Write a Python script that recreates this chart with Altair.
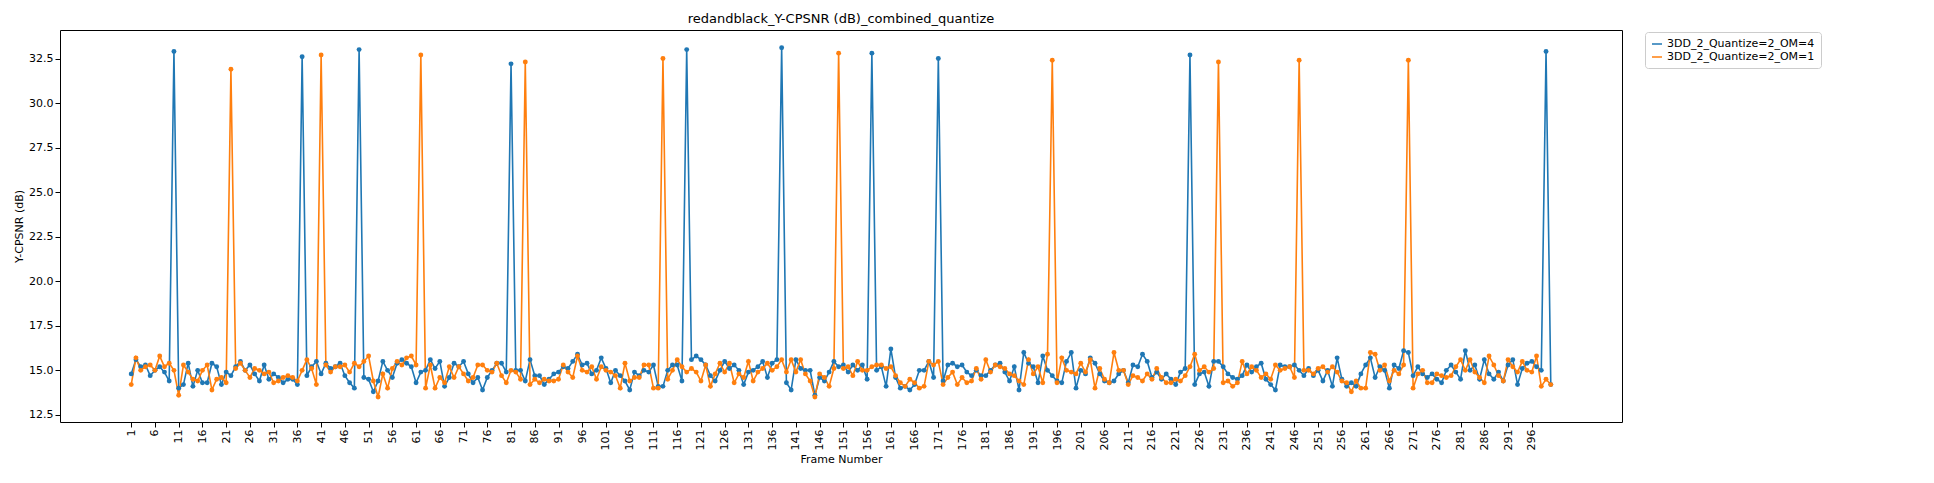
import altair as alt
import pandas as pd

# frame numbers
frames = list(range(1, 301))

# Y-CPSNR values
om4 = [
    14.8, 15.6, 15.2, 15.3, 14.7, 15.0, 15.2, 14.9, 14.4, 32.9,
    14.0, 14.2, 15.4, 14.1, 15.0, 14.3, 14.3, 15.4, 15.2, 14.2,
    14.9, 14.7, 15.2, 15.5, 15.0, 15.3, 14.8, 14.4, 15.3, 14.5,
    14.8, 14.6, 14.3, 14.5, 14.5, 14.2, 32.6, 14.7, 15.2, 15.5,
    14.8, 15.4, 15.1, 15.2, 15.4, 14.7, 14.3, 14.0, 33.0, 14.6,
    14.5, 13.8, 14.4, 15.5, 15.0, 14.6, 15.4, 15.6, 15.4, 15.2,
    14.3, 14.9, 15.0, 15.6, 15.1, 15.5, 14.1, 14.6, 15.4, 15.2,
    15.5, 14.8, 14.3, 14.6, 13.9, 14.6, 15.0, 15.4, 15.4, 14.9,
    32.2, 15.0, 15.0, 14.4, 15.6, 14.7, 14.7, 14.2, 14.5, 14.8,
    14.9, 15.2, 15.1, 15.5, 15.9, 15.3, 15.4, 14.8, 15.0, 15.7,
    15.1, 14.3, 15.0, 14.7, 14.4, 13.9, 14.9, 14.7, 15.0, 14.9,
    15.3, 14.1, 14.1, 15.0, 15.3, 15.3, 14.4, 33.0, 15.6, 15.8,
    15.6, 15.3, 14.7, 14.4, 15.0, 15.5, 15.1, 15.3, 15.0, 14.2,
    14.9, 15.0, 15.2, 15.5, 14.6, 15.4, 15.6, 33.1, 14.3, 13.9,
    15.6, 15.1, 15.0, 15.0, 13.6, 14.6, 14.4, 14.9, 15.5, 15.2,
    15.3, 14.9, 15.3, 15.0, 15.3, 14.5, 32.8, 15.0, 15.2, 14.1,
    16.2, 14.6, 14.0, 14.1, 13.9, 14.2, 15.0, 15.0, 15.5, 14.6,
    32.5, 14.4, 15.3, 15.4, 15.2, 15.3, 14.9, 14.7, 15.0, 14.7,
    14.7, 15.0, 15.3, 15.4, 14.9, 14.4, 15.2, 13.9, 16.0, 15.4,
    15.2, 14.3, 15.8, 15.0, 14.7, 14.4, 14.3, 15.5, 16.0, 14.0,
    15.0, 14.8, 15.7, 15.4, 14.8, 14.4, 14.3, 14.4, 14.8, 15.0,
    14.3, 15.3, 15.2, 15.9, 15.5, 14.6, 14.9, 14.5, 14.8, 14.5,
    14.2, 14.9, 15.1, 32.7, 14.2, 14.8, 14.9, 14.1, 15.5, 15.5,
    15.2, 14.8, 14.6, 14.5, 14.7, 15.3, 14.9, 15.2, 15.4, 14.5,
    14.2, 13.9, 15.3, 15.2, 15.2, 15.3, 15.0, 14.7, 15.1, 14.7,
    15.0, 14.4, 15.0, 14.1, 15.7, 14.5, 14.1, 14.3, 14.1, 14.8,
    15.3, 15.7, 14.6, 15.2, 15.0, 14.0, 15.3, 15.1, 16.1, 16.0,
    14.7, 15.2, 14.8, 14.6, 14.8, 14.5, 14.3, 15.0, 15.3, 14.9,
    14.5, 16.1, 15.0, 15.3, 14.5, 15.6, 14.8, 14.5, 14.9, 14.4,
    15.3, 15.6, 14.2, 15.1, 15.4, 15.5, 15.2, 15.0, 32.9, 14.2,
]
om1 = [
    14.2, 15.7, 15.0, 15.2, 15.3, 15.0, 15.8, 15.2, 15.4, 15.0,
    13.6, 15.3, 14.9, 14.5, 14.4, 15.0, 15.3, 13.9, 14.5, 14.6,
    14.3, 31.9, 15.1, 15.4, 15.0, 14.6, 15.1, 15.0, 14.8, 14.9,
    14.3, 14.4, 14.6, 14.7, 14.6, 14.4, 15.0, 15.6, 15.1, 14.2,
    32.7, 15.3, 14.9, 15.2, 15.2, 15.3, 14.9, 15.4, 15.2, 15.5,
    15.8, 14.4, 13.5, 14.8, 14.0, 15.1, 15.5, 15.3, 15.7, 15.8,
    15.3, 32.7, 14.0, 15.3, 14.0, 14.6, 14.3, 15.2, 14.6, 15.2,
    14.8, 14.4, 14.6, 15.3, 15.3, 15.0, 14.9, 15.4, 14.7, 14.3,
    15.0, 14.9, 14.5, 32.3, 14.2, 14.5, 14.3, 14.5, 14.4, 14.4,
    14.5, 15.3, 14.9, 14.6, 15.8, 15.0, 14.9, 15.2, 14.5, 15.2,
    15.0, 14.9, 14.7, 14.0, 15.4, 14.4, 14.6, 14.6, 15.3, 15.3,
    14.0, 14.0, 32.5, 14.5, 15.0, 15.6, 15.2, 14.9, 15.1, 14.9,
    14.4, 15.3, 14.1, 14.8, 15.4, 14.9, 15.4, 14.3, 14.8, 14.6,
    15.5, 14.4, 14.9, 15.1, 15.4, 15.0, 15.2, 15.6, 14.9, 15.6,
    14.9, 15.6, 14.8, 14.4, 13.5, 14.8, 14.6, 14.1, 15.1, 32.8,
    15.1, 15.2, 14.7, 15.5, 15.0, 15.0, 15.2, 15.3, 15.3, 15.1,
    15.2, 14.7, 14.3, 14.1, 14.5, 14.3, 14.0, 14.1, 15.5, 15.3,
    15.5, 14.2, 14.6, 14.9, 14.2, 14.6, 14.3, 14.4, 15.1, 14.5,
    15.6, 14.9, 15.3, 15.2, 15.1, 14.8, 14.7, 14.4, 14.2, 15.6,
    14.8, 15.2, 14.3, 15.9, 32.4, 14.3, 15.7, 15.0, 14.9, 14.8,
    15.4, 14.9, 15.6, 14.0, 15.1, 14.5, 14.3, 16.0, 15.0, 15.0,
    14.2, 14.7, 14.6, 14.4, 14.8, 14.5, 15.1, 14.6, 14.3, 14.3,
    14.5, 14.4, 14.7, 15.2, 15.9, 15.0, 15.2, 14.9, 15.1, 32.3,
    14.3, 14.4, 14.1, 14.3, 15.5, 14.8, 15.2, 15.0, 14.6, 14.8,
    14.5, 15.3, 15.0, 15.1, 15.2, 14.6, 32.4, 15.0, 15.0, 14.8,
    15.1, 15.2, 14.9, 15.2, 14.9, 14.4, 14.3, 13.8, 14.4, 14.0,
    14.0, 16.0, 15.9, 15.0, 15.3, 14.4, 15.0, 14.8, 15.3, 32.4,
    14.0, 14.8, 15.0, 14.3, 14.3, 14.8, 14.7, 14.6, 14.7, 15.2,
    15.6, 15.0, 15.6, 14.9, 14.6, 14.3, 15.8, 15.3, 14.7, 14.4,
    15.6, 15.2, 14.9, 15.5, 15.0, 14.9, 15.8, 14.1, 14.5, 14.2,
]
series = ["3DD_2_Quantize=2_OM=4", "3DD_2_Quantize=2_OM=1"]
colors = ["#1f77b4", "#ff7f0e"]
x_ticks = list(range(1, 300, 5))
y_ticks = [12.5, 15.0, 17.5, 20.0, 22.5, 25.0, 27.5, 30.0, 32.5]

df = pd.concat([
    pd.DataFrame({"frame": frames, "value": om4, "series": series[0]}),
    pd.DataFrame({"frame": frames, "value": om1, "series": series[1]}),
])

x = alt.X("frame:Q", title="Frame Number",
          scale=alt.Scale(domain=[-14, 315], nice=False, zero=False),
          axis=alt.Axis(values=x_ticks, labelAngle=-90, grid=False, labelFlush=False))
y = alt.Y("value:Q", title="Y-CPSNR (dB)",
          scale=alt.Scale(domain=[12.1, 34.1], nice=False, zero=False),
          axis=alt.Axis(values=y_ticks, format=".1f", grid=False))
color = alt.Color("series:N", sort=series,
                  scale=alt.Scale(domain=series, range=colors),
                  legend=alt.Legend(title=None, orient="none", legendX=1585, legendY=2,
                                    symbolType="stroke", symbolStrokeWidth=1.5,
                                    padding=6, strokeColor="#cccccc", fillColor="white",
                                    cornerRadius=3, labelFontSize=11))

base = alt.Chart(df).encode(x=x, y=y, color=color, detail="series:N")
lines = base.mark_line(strokeWidth=1.6)
pts = base.mark_point(filled=True, size=24, opacity=1)

chart = (
    (lines + pts)
    .properties(width=1562, height=392,
                title="redandblack_Y-CPSNR (dB)_combined_quantize")
    .configure(font="DejaVu Sans")
    .configure_view(stroke="black", strokeWidth=1)
    .configure_axis(domain=False, tickColor="black", labelColor="black",
                    titleColor="black", titleFontWeight="normal",
                    labelFontSize=11, titleFontSize=11)
    .configure_title(fontSize=13, fontWeight="normal", anchor="middle")
)

chart.save("out.html", embed_options={"renderer": "svg", "actions": False})
